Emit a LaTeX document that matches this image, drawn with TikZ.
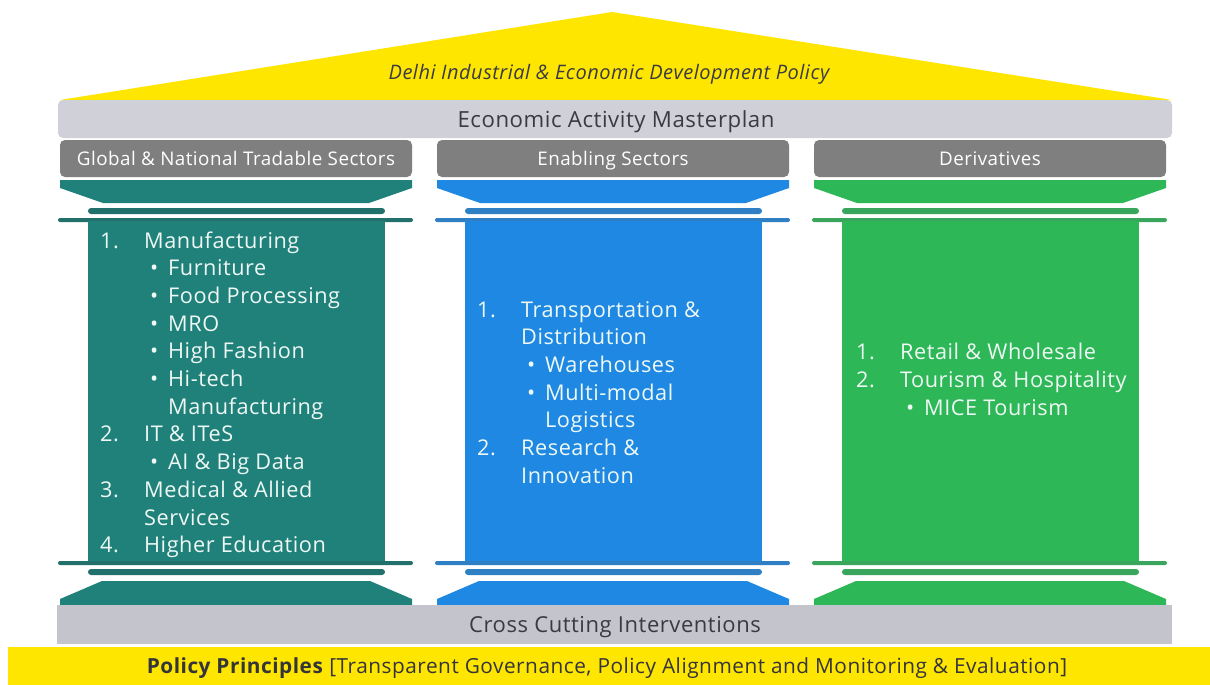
\documentclass[tikz,border=0pt]{standalone}
\usepackage{fontspec}
\setmainfont{Open Sans}[LetterSpace=2.5]
\begin{document}
\definecolor{eyyellow}{HTML}{FFE600}
\definecolor{bandtop}{HTML}{CFD0D8}
\definecolor{bandbot}{HTML}{C4C4CD}
\definecolor{headgray}{HTML}{7F7F7F}
\definecolor{darktext}{HTML}{3A3A42}
\definecolor{coltxt}{HTML}{EEF8F4}
\definecolor{tealc}{HTML}{20807A}
\definecolor{teald}{HTML}{22706C}
\definecolor{bluec}{HTML}{1E88E2}
\definecolor{blued}{HTML}{2E7FC4}
\definecolor{greenc}{HTML}{2DB757}
\definecolor{greend}{HTML}{3AA55C}
\newcommand\numln[2]{\makebox[44pt][l]{#1}#2}
\newcommand\bulln[1]{\hspace*{44pt}\makebox[24pt][l]{\hspace{6pt}\textbullet}#1}
\newcommand\contA[1]{\hspace*{44pt}#1}
\newcommand\contB[1]{\hspace*{68pt}#1}
% one pillar: capital, bars, shaft and base between x = #1 and x = #2
\newcommand\pillar[4]{%
  \fill[#3] (#1,180) -- (#2,180) -- (#2,188) -- ({#2-43},203) -- ({#1+43},203) -- (#1,188) -- cycle;
  \fill[#4, rounded corners=3pt] ({#1+28},208) rectangle ({#2-27},214);
  \fill[#4, rounded corners=2pt] ({#1-2},218) rectangle ({#2+1},222);
  \fill[#3] ({#1+28},221) rectangle ({#2-27},562);
  \fill[#4, rounded corners=2pt] ({#1-2},561) rectangle ({#2+1},565);
  \fill[#4, rounded corners=3pt] ({#1+28},569) rectangle ({#2-27},575);
  \fill[#3] ({#1+42},581) -- ({#2-42},581) -- (#2,599) -- (#2,605) -- (#1,605) -- (#1,599) -- cycle;
}
\begin{tikzpicture}[x=1pt,y=-1pt,
  bandtext/.style={inner sep=0pt, anchor=base, text=darktext},
  headbox/.style={fill=headgray, rounded corners=5pt, minimum width=352pt, minimum height=37pt, inner sep=0pt},
  headtext/.style={inner sep=0pt, anchor=base, text=white, font=\fontsize{18.8}{22}\selectfont},
  coltext/.style={inner sep=0pt, anchor=base west, text=coltxt, font=\fontsize{21.7}{24}\selectfont}]
\useasboundingbox (0,0) rectangle (1210,685);
\fill[white] (0,0) rectangle (1210,685);

% roof
\fill[eyyellow] (60,100) -- (612,12) -- (1172,100) -- cycle;
\node[inner sep=0pt, anchor=base, text=darktext, font=\fontsize{20}{22}\selectfont\itshape] (policy) at (609,80) {Delhi Industrial \& Economic Development Policy};

% masterplan band
\fill[bandtop, rounded corners=5pt] (58,100) rectangle (1172,138);
\node[bandtext, font=\fontsize{22.2}{24}\selectfont] (master) at (616,127) {Economic Activity Masterplan};

% sector headers
\node[headbox] (h1) at (236,158.5) {};
\node[headbox] (h2) at (613,158.5) {};
\node[headbox] (h3) at (990,158.5) {};
\node[headtext] (t1) at (236,165.5) {Global \& National Tradable Sectors};
\node[headtext] (t2) at (613,165.5) {Enabling Sectors};
\node[headtext] (t3) at (990,165.5) {Derivatives};

% pillars
\pillar{60}{412}{tealc}{teald}
\pillar{437}{789}{bluec}{blued}
\pillar{814}{1166}{greenc}{greend}

% pillar contents
\foreach \t [count=\i] in {
  {\numln{1.}{Manufacturing}},
  {\bulln{Furniture}},
  {\bulln{Food Processing}},
  {\bulln{MRO}},
  {\bulln{High Fashion}},
  {\bulln{Hi-tech}},
  {\contB{Manufacturing}},
  {\numln{2.}{IT \& ITeS}},
  {\bulln{AI \& Big Data}},
  {\numln{3.}{Medical \& Allied}},
  {\contA{Services}},
  {\numln{4.}{Higher Education}}}
  \node[coltext] (a\i) at (100,{248+27.7*(\i-1)}) {\t};

\foreach \t [count=\i] in {
  {\numln{1.}{Transportation \&}},
  {\contA{Distribution}},
  {\bulln{Warehouses}},
  {\bulln{Multi-modal}},
  {\contB{Logistics}},
  {\numln{2.}{Research \&}},
  {\contA{Innovation}}}
  \node[coltext] (b\i) at (477,{317+27.7*(\i-1)}) {\t};

\foreach \t [count=\i] in {
  {\numln{1.}{Retail \& Wholesale}},
  {\numln{2.}{Tourism \& Hospitality}},
  {\bulln{MICE Tourism}}}
  \node[coltext] (c\i) at (856,{359+28*(\i-1)}) {\t};

% cross cutting band
\fill[bandbot] (57,605) rectangle (1172,644);
\node[bandtext, font=\fontsize{22}{24}\selectfont] (cross) at (615,632) {Cross Cutting Interventions};

% principles band
\fill[eyyellow] (8,647) rectangle (1210,685);
\node[inner sep=0pt, anchor=base, text=darktext!90!black, font=\fontsize{20.8}{24}\selectfont] (princ) at (607,673.5)
  {\textbf{Policy Principles} [Transparent Governance, Policy Alignment and Monitoring \& Evaluation]};
\end{tikzpicture}
\end{document}
